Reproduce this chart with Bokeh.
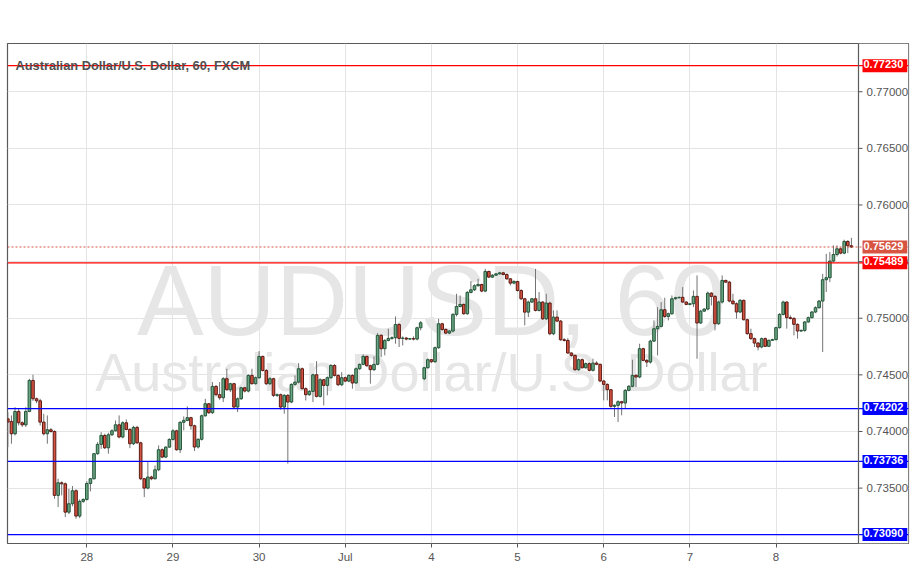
from bokeh.plotting import figure
from bokeh.models import ColumnDataSource, Span, Label, FixedTicker, PrintfTickFormatter
from bokeh.core.properties import value
from bokeh.embed import file_html
from bokeh.resources import INLINE

# ---------------- data (AUD/USD, 60 min candles) ----------------
opens = [
    0.74112, 0.74089, 0.73980, 0.74177, 0.74077, 0.74059, 0.74177, 0.74451, 0.74289, 0.74271,
    0.74083, 0.73980, 0.74015, 0.74000, 0.73436, 0.73547, 0.73538, 0.73288, 0.73362, 0.73477,
    0.73253, 0.73383, 0.73400, 0.73541, 0.73583, 0.73804, 0.73886, 0.73965, 0.73856, 0.73971,
    0.74006, 0.74059, 0.73951, 0.74077, 0.74018, 0.73892, 0.74036, 0.73900, 0.73583, 0.73500,
    0.73598, 0.73583, 0.73662, 0.73839, 0.73774, 0.73862, 0.73930, 0.74006, 0.73839, 0.74081,
    0.74098, 0.74122, 0.74051, 0.73863, 0.73931, 0.74139, 0.74245, 0.74166, 0.74398, 0.74325,
    0.74298, 0.74466, 0.74369, 0.74422, 0.74216, 0.74289, 0.74386, 0.74357, 0.74495, 0.74422,
    0.74475, 0.74663, 0.74539, 0.74422, 0.74466, 0.74319, 0.74325, 0.74216, 0.74319, 0.74260,
    0.74416, 0.74436, 0.74554, 0.74378, 0.74325, 0.74354, 0.74501, 0.74310, 0.74457, 0.74407,
    0.74475, 0.74583, 0.74495, 0.74413, 0.74475, 0.74445, 0.74495, 0.74428, 0.74554, 0.74593,
    0.74663, 0.74581, 0.74546, 0.74593, 0.74849, 0.74731, 0.74804, 0.74822, 0.74828, 0.74945,
    0.74822, 0.74825, 0.74816, 0.74820, 0.74816, 0.74916, 0.74466, 0.74563, 0.74634, 0.74616,
    0.74740, 0.74951, 0.74901, 0.74869, 0.74887, 0.75034, 0.75104, 0.75122, 0.75040, 0.75228,
    0.75251, 0.75287, 0.75298, 0.75240, 0.75413, 0.75363, 0.75380, 0.75392, 0.75401, 0.75386,
    0.75348, 0.75310, 0.75325, 0.75245, 0.75172, 0.75054, 0.75143, 0.75172, 0.75069, 0.75143,
    0.74995, 0.75134, 0.74863, 0.75010, 0.74975, 0.74810, 0.74804, 0.74693, 0.74672, 0.74546,
    0.74634, 0.74563, 0.74599, 0.74540, 0.74604, 0.74593, 0.74446, 0.74416, 0.74369, 0.74222,
    0.74231, 0.74263, 0.74252, 0.74363, 0.74399, 0.74496, 0.74481, 0.74731, 0.74628, 0.74613,
    0.74798, 0.74907, 0.74928, 0.75075, 0.75016, 0.75040, 0.75172, 0.75181, 0.75185, 0.75143,
    0.75122, 0.75128, 0.75193, 0.74958, 0.75063, 0.75081, 0.75222, 0.75193, 0.74952, 0.75143,
    0.75334, 0.75319, 0.75152, 0.75128, 0.75055, 0.75158, 0.74987, 0.74864, 0.74820, 0.74781,
    0.74746, 0.74820, 0.74752, 0.74805, 0.74811, 0.74917, 0.75034, 0.75143, 0.75005, 0.74998,
    0.74946, 0.74887, 0.74893, 0.74967, 0.75005, 0.75055, 0.75093, 0.75152, 0.75340, 0.75358,
    0.75505, 0.75563, 0.75613, 0.75575, 0.75678, 0.75640,
]
highs = [
    0.74171, 0.74142, 0.74215, 0.74200, 0.74090, 0.74215, 0.74465, 0.74501, 0.74300, 0.74289,
    0.74156, 0.74142, 0.74030, 0.74010, 0.73583, 0.73560, 0.73550, 0.73494, 0.73518, 0.73490,
    0.73400, 0.73410, 0.73560, 0.73590, 0.73810, 0.73906, 0.73994, 0.73980, 0.73990, 0.74020,
    0.74097, 0.74142, 0.74090, 0.74106, 0.74030, 0.74050, 0.74050, 0.73910, 0.73590, 0.73730,
    0.73610, 0.73700, 0.73877, 0.73850, 0.73870, 0.73940, 0.74020, 0.74015, 0.74090, 0.74133,
    0.74222, 0.74130, 0.74060, 0.73940, 0.74150, 0.74289, 0.74250, 0.74436, 0.74410, 0.74436,
    0.74480, 0.74554, 0.74430, 0.74430, 0.74300, 0.74395, 0.74395, 0.74505, 0.74554, 0.74485,
    0.74710, 0.74670, 0.74550, 0.74480, 0.74475, 0.74335, 0.74335, 0.74330, 0.74330, 0.74425,
    0.74495, 0.74604, 0.74565, 0.74390, 0.74365, 0.74510, 0.74621, 0.74470, 0.74465, 0.74485,
    0.74595, 0.74595, 0.74505, 0.74524, 0.74485, 0.74505, 0.74505, 0.74565, 0.74600, 0.74681,
    0.74670, 0.74590, 0.74663, 0.74869, 0.74860, 0.74815, 0.74907, 0.74840, 0.75016, 0.74955,
    0.74840, 0.74835, 0.74825, 0.74840, 0.74925, 0.74975, 0.74570, 0.74645, 0.74640, 0.74750,
    0.74995, 0.74960, 0.74910, 0.74895, 0.75045, 0.75216, 0.75201, 0.75130, 0.75240, 0.75328,
    0.75300, 0.75348, 0.75305, 0.75436, 0.75420, 0.75390, 0.75400, 0.75410, 0.75410, 0.75395,
    0.75355, 0.75335, 0.75330, 0.75255, 0.75180, 0.75155, 0.75180, 0.75436, 0.75231, 0.75150,
    0.75216, 0.75145, 0.75069, 0.75069, 0.74985, 0.74825, 0.74825, 0.74700, 0.74680, 0.74645,
    0.74645, 0.74610, 0.74610, 0.74643, 0.74620, 0.74600, 0.74455, 0.74425, 0.74375, 0.74240,
    0.74275, 0.74270, 0.74375, 0.74410, 0.74634, 0.74505, 0.74775, 0.74740, 0.74640, 0.74810,
    0.74981, 0.75098, 0.75143, 0.75181, 0.75050, 0.75201, 0.75190, 0.75190, 0.75275, 0.75150,
    0.75135, 0.75245, 0.75378, 0.75075, 0.75090, 0.75235, 0.75230, 0.75205, 0.75155, 0.75378,
    0.75340, 0.75330, 0.75216, 0.75140, 0.75170, 0.75165, 0.74995, 0.74908, 0.74830, 0.74790,
    0.74830, 0.74830, 0.74812, 0.74820, 0.74925, 0.75045, 0.75155, 0.75150, 0.75025, 0.75010,
    0.74955, 0.74900, 0.74975, 0.75015, 0.75065, 0.75105, 0.75160, 0.75392, 0.75569, 0.75584,
    0.75643, 0.75643, 0.75625, 0.75693, 0.75690, 0.75710,
]
lows = [
    0.73862, 0.73892, 0.73965, 0.74053, 0.74040, 0.74040, 0.74170, 0.74270, 0.74250, 0.74053,
    0.73965, 0.73892, 0.73990, 0.73406, 0.73333, 0.73436, 0.73244, 0.73270, 0.73340, 0.73230,
    0.73235, 0.73370, 0.73390, 0.73471, 0.73575, 0.73795, 0.73847, 0.73845, 0.73804, 0.73960,
    0.74000, 0.73940, 0.73940, 0.74010, 0.73853, 0.73880, 0.73890, 0.73570, 0.73421, 0.73490,
    0.73570, 0.73575, 0.73650, 0.73765, 0.73765, 0.73855, 0.73920, 0.73830, 0.73810, 0.74010,
    0.74090, 0.74016, 0.73828, 0.73850, 0.73920, 0.74130, 0.74155, 0.74155, 0.74310, 0.74280,
    0.74260, 0.74360, 0.74348, 0.74205, 0.74172, 0.74280, 0.74345, 0.74345, 0.74415, 0.74415,
    0.74465, 0.74530, 0.74410, 0.74410, 0.74305, 0.74305, 0.74192, 0.74157, 0.73716, 0.74250,
    0.74405, 0.74425, 0.74370, 0.74274, 0.74315, 0.74260, 0.74300, 0.74300, 0.74230, 0.74319,
    0.74465, 0.74485, 0.74400, 0.74400, 0.74435, 0.74435, 0.74378, 0.74420, 0.74545, 0.74585,
    0.74570, 0.74422, 0.74534, 0.74585, 0.74657, 0.74672, 0.74795, 0.74810, 0.74775, 0.74746,
    0.74760, 0.74805, 0.74810, 0.74805, 0.74805, 0.74893, 0.74452, 0.74555, 0.74605, 0.74605,
    0.74730, 0.74890, 0.74860, 0.74860, 0.74875, 0.75016, 0.75095, 0.75030, 0.75030, 0.75220,
    0.75240, 0.75280, 0.75230, 0.75230, 0.75355, 0.75355, 0.75375, 0.75385, 0.75380, 0.75340,
    0.75290, 0.75300, 0.75235, 0.75160, 0.74937, 0.75010, 0.75135, 0.75060, 0.75060, 0.74985,
    0.74985, 0.74850, 0.74850, 0.74965, 0.74800, 0.74795, 0.74685, 0.74660, 0.74535, 0.74535,
    0.74555, 0.74555, 0.74530, 0.74530, 0.74585, 0.74435, 0.74275, 0.74275, 0.74210, 0.74128,
    0.74084, 0.74143, 0.74202, 0.74355, 0.74390, 0.74393, 0.74470, 0.74620, 0.74569, 0.74600,
    0.74790, 0.74672, 0.74920, 0.75005, 0.74981, 0.75030, 0.75165, 0.75175, 0.75135, 0.75115,
    0.75115, 0.75099, 0.74642, 0.74950, 0.75055, 0.75070, 0.75113, 0.74893, 0.74940, 0.75130,
    0.75310, 0.75140, 0.75120, 0.74996, 0.75045, 0.74980, 0.74855, 0.74810, 0.74746, 0.74716,
    0.74735, 0.74745, 0.74750, 0.74800, 0.74805, 0.74908, 0.75025, 0.74908, 0.74990, 0.74849,
    0.74820, 0.74880, 0.74880, 0.74960, 0.74998, 0.75045, 0.75085, 0.74702, 0.75231, 0.75319,
    0.75495, 0.75545, 0.75565, 0.75565, 0.75575, 0.75620,
]
closes = [
    0.74083, 0.73980, 0.74177, 0.74077, 0.74059, 0.74177, 0.74451, 0.74289, 0.74271, 0.74083,
    0.73980, 0.74015, 0.74000, 0.73436, 0.73547, 0.73538, 0.73288, 0.73362, 0.73477, 0.73253,
    0.73383, 0.73400, 0.73541, 0.73583, 0.73804, 0.73886, 0.73965, 0.73856, 0.73971, 0.74006,
    0.74059, 0.73951, 0.74077, 0.74018, 0.73892, 0.74036, 0.73900, 0.73583, 0.73500, 0.73598,
    0.73583, 0.73662, 0.73839, 0.73774, 0.73862, 0.73930, 0.74006, 0.73839, 0.74081, 0.74098,
    0.74122, 0.74051, 0.73863, 0.73931, 0.74139, 0.74245, 0.74166, 0.74398, 0.74325, 0.74298,
    0.74466, 0.74369, 0.74422, 0.74216, 0.74289, 0.74386, 0.74357, 0.74495, 0.74422, 0.74475,
    0.74663, 0.74539, 0.74422, 0.74466, 0.74319, 0.74325, 0.74216, 0.74319, 0.74260, 0.74416,
    0.74436, 0.74554, 0.74378, 0.74325, 0.74354, 0.74501, 0.74310, 0.74457, 0.74407, 0.74475,
    0.74583, 0.74495, 0.74413, 0.74475, 0.74445, 0.74495, 0.74428, 0.74554, 0.74593, 0.74663,
    0.74581, 0.74546, 0.74593, 0.74849, 0.74731, 0.74804, 0.74822, 0.74828, 0.74945, 0.74822,
    0.74825, 0.74816, 0.74820, 0.74816, 0.74916, 0.74960, 0.74563, 0.74634, 0.74616, 0.74740,
    0.74951, 0.74901, 0.74869, 0.74887, 0.75034, 0.75104, 0.75122, 0.75040, 0.75228, 0.75251,
    0.75287, 0.75298, 0.75240, 0.75413, 0.75363, 0.75380, 0.75392, 0.75401, 0.75386, 0.75348,
    0.75310, 0.75325, 0.75245, 0.75172, 0.75054, 0.75143, 0.75172, 0.75069, 0.75143, 0.74995,
    0.75134, 0.74863, 0.75010, 0.74975, 0.74810, 0.74804, 0.74693, 0.74672, 0.74546, 0.74634,
    0.74563, 0.74599, 0.74540, 0.74604, 0.74593, 0.74446, 0.74416, 0.74369, 0.74222, 0.74231,
    0.74263, 0.74252, 0.74363, 0.74399, 0.74496, 0.74481, 0.74731, 0.74628, 0.74613, 0.74798,
    0.74907, 0.74928, 0.75075, 0.75016, 0.75040, 0.75172, 0.75181, 0.75185, 0.75143, 0.75122,
    0.75128, 0.75193, 0.74958, 0.75063, 0.75081, 0.75222, 0.75193, 0.74952, 0.75143, 0.75334,
    0.75319, 0.75152, 0.75128, 0.75055, 0.75158, 0.74987, 0.74864, 0.74820, 0.74781, 0.74746,
    0.74820, 0.74752, 0.74805, 0.74811, 0.74917, 0.75034, 0.75143, 0.75005, 0.74998, 0.74946,
    0.74887, 0.74893, 0.74967, 0.75005, 0.75055, 0.75093, 0.75152, 0.75340, 0.75358, 0.75505,
    0.75563, 0.75613, 0.75575, 0.75678, 0.75640, 0.75629,
]

day_ticks = [22, 46, 70, 94, 118, 142, 166, 190, 214]
day_labels = ["28", "29", "30", "Jul", "4", "5", "6", "7", "8"]
price_ticks = [0.735, 0.740, 0.745, 0.750, 0.755, 0.760, 0.765, 0.770]

levels = [0.77230, 0.75489, 0.74202, 0.73736, 0.73090]
level_colors = ["#ff0000", "#ff0000", "#0000ff", "#0000ff", "#0000ff"]
last_price = 0.75629
last_color = "#d75442"

title_text = "Australian Dollar/U.S. Dollar, 60, FXCM"
wm_symbol = "AUDUSD, 60"
wm_desc = "Australian Dollar/U.S. Dollar"

FONT = "Liberation Sans"
UP_FILL, UP_LINE = "#6ba583", "#225437"
DN_FILL, DN_LINE = "#d75442", "#5b1a13"
WICK = "#737375"
BORDER = "#5a5a5a"

# ---------------- geometry ----------------
PX_PER_BAR = 3.5895          # horizontal pixels per hourly bar
CHART_W = 851                # width of the candle area (px)
SCALE_W = 50                 # width of the price scale panel (px)
FRAME_W, FRAME_H = CHART_W + SCALE_W, 500
X0 = -0.1
X_SPLIT = X0 + CHART_W / PX_PER_BAR           # boundary between candles and price scale
X1 = X0 + FRAME_W / PX_PER_BAR
Y0, Y1 = 0.73011, 0.77426

n = len(closes)
xs = list(range(n))
is_up = [c >= o for o, c in zip(opens, closes)]
src = ColumnDataSource(dict(
    x=xs,
    top=[max(o, c) for o, c in zip(opens, closes)],
    bottom=[min(o, c) for o, c in zip(opens, closes)],
    high=highs,
    low=lows,
    fill=[UP_FILL if u else DN_FILL for u in is_up],
    line=[UP_LINE if u else DN_LINE for u in is_up],
))

p = figure(
    frame_width=FRAME_W, frame_height=FRAME_H,
    x_range=(X0, X1), y_range=(Y0, Y1),
    output_backend="svg", toolbar_location=None,
    y_axis_location="right",
    min_border_left=7, min_border_right=0, min_border_top=43, min_border_bottom=20,
    background_fill_color="white", border_fill_color="white",
)
p.outline_line_color = BORDER
p.outline_line_width = 1.2

# grids
p.xgrid.ticker = FixedTicker(ticks=day_ticks)
p.ygrid.ticker = FixedTicker(ticks=price_ticks)
p.xgrid.grid_line_color = "#e4e4e4"
p.ygrid.grid_line_color = "#e4e4e4"

# axes
p.xaxis.ticker = FixedTicker(ticks=day_ticks)
p.xaxis.major_label_overrides = {t: l for t, l in zip(day_ticks, day_labels)}
p.yaxis.ticker = FixedTicker(ticks=price_ticks)
p.yaxis.formatter = PrintfTickFormatter(format="%.5f")
for ax in (p.xaxis, p.yaxis):
    ax.axis_line_color = None
    ax.minor_tick_line_color = None
    ax.major_label_text_font = FONT
    ax.major_label_text_font_size = "11.5px"
    ax.major_label_text_color = "#555555"
p.xaxis.major_tick_in = 0
p.xaxis.major_tick_out = 4
p.xaxis.major_tick_line_color = "#555555"
p.xaxis.major_label_standoff = 3
# price labels sit inside the price-scale panel (the right strip of the frame)
p.yaxis.major_tick_line_color = None
p.yaxis.major_tick_in = 0
p.yaxis.major_tick_out = 0
p.yaxis.minor_tick_in = 0
p.yaxis.minor_tick_out = 0
p.yaxis.major_label_standoff = -(SCALE_W - 8)

# watermark
p.text(x=[118.0], y=[0.75157], text=[wm_symbol], text_font=value(FONT),
       text_font_size="100px", text_color="#e6e6e6", text_align="center",
       text_baseline="alphabetic")
p.text(x=[118.0], y=[0.74521], text=[wm_desc], text_font=value(FONT),
       text_font_size="54px", text_color="#e6e6e6", text_align="center",
       text_baseline="alphabetic")

# candles
p.segment(x0="x", y0="low", x1="x", y1="high", source=src, line_color=WICK, line_width=1)
p.vbar(x="x", width=0.72, top="top", bottom="bottom", source=src,
       fill_color="fill", line_color="line", line_width=1)

# price-scale panel (white strip with tick marks)
p.quad(left=[X_SPLIT], right=[X1], bottom=[Y0], top=[Y1], fill_color="white", line_color=None)
tick_len = 4 / PX_PER_BAR
p.segment(x0=[X_SPLIT] * len(price_ticks), x1=[X_SPLIT + tick_len] * len(price_ticks),
          y0=price_ticks, y1=price_ticks, line_color="#555555", line_width=1)

# horizontal levels
for lv, col in zip(levels, level_colors):
    p.add_layout(Span(location=lv, dimension="width", line_color=col, line_width=1.3))
p.add_layout(Span(location=last_price, dimension="width", line_color=last_color,
                  line_width=1, line_dash="2 2"))
p.add_layout(Span(location=X_SPLIT, dimension="height", line_color=BORDER, line_width=1.2))

# title
p.add_layout(Label(x=8, y=0.77236, x_units="screen", y_units="data", text=title_text,
                   text_font=FONT, text_font_size="12.8px", text_font_style="bold",
                   text_color="#505050", text_baseline="alphabetic", text_align="left"))

# price tags on the price scale
for lv, col in list(zip(levels, level_colors)) + [(last_price, last_color)]:
    p.add_layout(Label(x=CHART_W + 4, y=lv, x_units="screen", y_units="data",
                       text=f"{lv:.5f}", text_font=FONT, text_font_size="11px",
                       text_font_style="bold", text_color="white",
                       background_fill_color=col, text_baseline="middle",
                       text_align="left", padding=(1, 4, 1, 4)))

open("out.html", "w").write(file_html(p, INLINE))
